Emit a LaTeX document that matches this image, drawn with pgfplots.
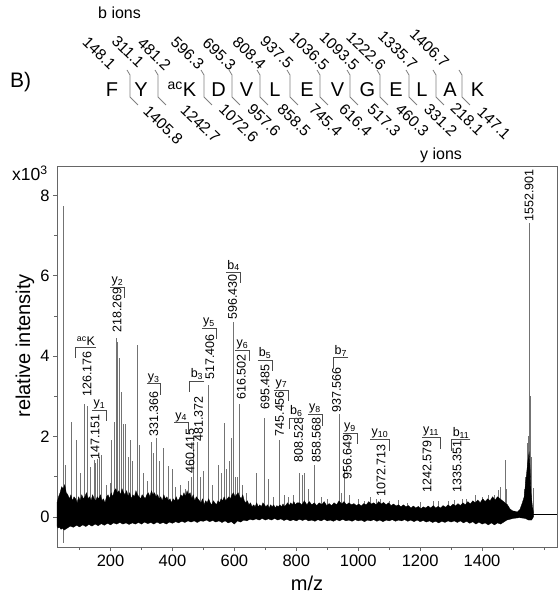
\documentclass[border=0pt]{standalone}
\usepackage{fontspec}
\setmainfont{Liberation Sans}
\usepackage{pgfplots}
\pgfplotsset{compat=1.18}
\tikzset{
  pk/.style={rotate=90, anchor=west, inner sep=0pt, font=\fontsize{12.5}{13}\selectfont},
  ion/.style={anchor=south, inner sep=1pt, font=\fontsize{12.5}{13}\selectfont},
  ionln/.style={black!70, line width=0.7pt},
  sep/.style={black!50, line width=0.8pt},
  hb/.style={rotate=-44, anchor=east, inner sep=0pt, font=\fontsize{15.5}{16}\selectfont},
  hy/.style={rotate=-44, anchor=west, inner sep=0pt, font=\fontsize{15.5}{16}\selectfont},
  aa/.style={anchor=base, inner sep=0pt, font=\fontsize{20}{22}\selectfont}
}
\newcommand\ionR[3]{\node[ion] (ionnode) at (axis cs:#1,#2) {#3};
  \draw[ionln] (ionnode.south west) -- (ionnode.south east) -- ++(0pt,-11pt);}
\newcommand\ionL[3]{\node[ion] (ionnode) at (axis cs:#1,#2) {#3};
  \draw[ionln] (ionnode.south east) -- (ionnode.south west) -- ++(0pt,-11pt);}
\begin{document}
\begin{tikzpicture}[x=1pt,y=1pt]
\useasboundingbox (0,0) rectangle (558,603);
\begin{axis}[at={(57pt,56pt)}, anchor=south west, width=500pt, height=381pt, scale only axis,
  xmin=27, xmax=1642, ymin=-0.75, ymax=8.73, clip=false,
  axis line style={black!60, line width=0.8pt},
  xtick={200,400,...,1400}, minor xtick={100,300,...,1500,1600},
  ytick={0,2,...,8}, minor ytick={1,3,5,7},
  tick align=outside, xtick pos=lower, ytick pos=left,
  major tick length=4pt, minor tick length=3pt,
  tick style={black!60, line width=0.6pt},
  ticklabel style={font=\fontsize{16.5}{18}\selectfont},
  /pgf/number format/assume math mode=true, /pgf/number format/1000 sep={},
  xlabel={m/z}, ylabel={relative intensity},
  label style={font=\fontsize{20}{22}\selectfont},
  xlabel style={at={(axis description cs:0.5,0)}, anchor=base, yshift=-43pt},
  ylabel style={at={(axis description cs:-0.064,0.528)}, anchor=center},
]
% peaks
\addplot[ycomb, black!55, line width=0.7pt, mark=none] coordinates {
(47,7.74)(47,-0.65)(55,1.3)(74,2.35)(90,1.9)(104,1.1)(114,2.8)(126.2,2.75)(135,1.25)
(147.2,1.42)(152,1.35)(158,1.45)(164,1.5)(171,1.55)(185,0.8)(198,0.85)(203,1.9)(211,2.35)
(218.3,4.45)(222.5,4.35)(229,3.95)(235,3.1)(240,2.3)(249,2.3)(257,1.5)(265,1.9)(270,1.4)
(287.5,4.28)(292,1.8)(305,1.1)(318,0.9)(331.4,1.87)(338,1.6)(349,1.95)(357,1.4)(370,1.72)
(387,1.27)(400,1.2)(410,0.75)(424,0.8)(440,0.7)(451,0.88)(460.4,1.0)(467,1.87)(481.4,1.87)
(490,1.0)(499,1.15)(517.4,3.28)(530,0.8)(547,1.3)(557,1.1)(566,2.33)(575,1.2)(584,1.4)
(590,1.95)(596.4,4.85)(602,1.0)(610,1.0)(616.5,2.8)(625,0.8)(640,0.6)(670,1.1)(695.5,2.45)
(710,0.95)(725,0.5)(745.5,1.92)(760,0.55)(775,0.5)(790,0.55)(808.5,1.09)(820,1.05)(826,1.1)
(840,0.7)(858.6,1.29)(880,0.5)(900,0.45)(937.6,2.55)(945,0.6)(956.6,1.2)(970,0.55)(1000,0.45)
(1020,0.4)(1038,0.5)(1060,0.45)(1072.7,0.45)(1100,0.4)(1130,0.42)(1160,0.35)(1200,0.38)
(1242.6,0.4)(1260,0.4)(1290,0.4)(1310,0.42)(1335.4,0.45)(1350,0.45)(1377,0.55)(1400,0.5)
(1420,0.55)(1440,0.55)(1452,0.67)(1460,0.75)(1474,1.42)(1480,0.7)(1535,0.7)(1540,1.0)
(1545,1.84)(1549,2.0)(1552.9,7.3)(1553.9,5.9)(1555,3.0)(1558,1.5)(1566,0.72)
};
% noise band
\addplot[fill=black, draw=black, line width=0.3pt, mark=none] coordinates {
(27,0.35)(32,0.5)(37,0.6)(42,0.75)(47,0.7)(52,0.8)(57,0.6)(62,0.55)(67,0.45)(72,0.55)(77,0.4)(82,0.5)(87,0.45)(92,0.35)(97,0.5)(102,0.4)(107,0.55)(112,0.45)(117,0.5)(122,0.6)(127,0.45)(132,0.5)(137,0.4)(142,0.55)(147,0.45)(152,0.4)(157,0.5)(162,0.45)(167,0.55)(172,0.4)(177,0.45)(182,0.35)(187,0.5)(192,0.55)(197,0.45)(202,0.6)(207,0.5)(212,0.65)(217,0.7)(222,0.6)(227,0.65)(232,0.55)(237,0.7)(242,0.6)(247,0.55)(252,0.65)(257,0.5)(262,0.6)(267,0.45)(272,0.55)(277,0.5)(282,0.65)(287,0.55)(292,0.5)(297,0.45)(302,0.55)(307,0.5)(312,0.45)(317,0.55)(322,0.6)(327,0.5)(332,0.65)(337,0.55)(342,0.6)(347,0.5)(352,0.55)(357,0.45)(362,0.5)(367,0.4)(372,0.55)(377,0.45)(382,0.5)(387,0.4)(392,0.45)(397,0.35)(402,0.45)(407,0.4)(412,0.5)(417,0.4)(422,0.45)(427,0.55)(432,0.5)(437,0.6)(442,0.5)(447,0.65)(452,0.55)(457,0.6)(462,0.45)(467,0.55)(472,0.4)(477,0.5)(482,0.45)(487,0.4)(492,0.35)(497,0.45)(502,0.3)(507,0.4)(512,0.35)(517,0.45)(522,0.35)(527,0.3)(532,0.4)(537,0.35)(542,0.3)(547,0.4)(552,0.35)(557,0.45)(562,0.4)(567,0.5)(572,0.4)(577,0.45)(582,0.5)(587,0.45)(592,0.55)(597,0.6)(602,0.5)(607,0.55)(612,0.6)(617,0.5)(622,0.45)(627,0.55)(632,0.4)(637,0.35)(642,0.4)(647,0.3)(652,0.35)(657,0.25)(662,0.3)(667,0.25)(672,0.35)(677,0.25)(682,0.3)(687,0.25)(692,0.35)(697,0.3)(702,0.25)(707,0.3)(712,0.22)(717,0.3)(722,0.25)(727,0.3)(732,0.22)(737,0.28)(742,0.25)(747,0.3)(752,0.25)(757,0.32)(762,0.25)(767,0.3)(772,0.35)(777,0.28)(782,0.35)(787,0.3)(792,0.38)(797,0.3)(802,0.35)
(810,0.35)(818,0.3)(826,0.4)(834,0.3)(842,0.38)(850,0.3)(858,0.35)(866,0.28)(874,0.35)(882,0.3)(890,0.38)(898,0.28)(906,0.33)(914,0.28)(922,0.35)(930,0.3)(938,0.4)(946,0.32)(954,0.38)(962,0.3)(970,0.35)(978,0.3)(986,0.33)(994,0.28)(1002,0.32)(1010,0.27)(1018,0.33)(1026,0.3)(1034,0.38)(1042,0.32)(1050,0.35)(1058,0.3)(1066,0.38)(1074,0.32)(1082,0.36)(1090,0.3)(1098,0.35)(1106,0.28)(1114,0.32)(1122,0.27)(1130,0.3)(1138,0.25)(1146,0.3)(1154,0.25)(1162,0.28)(1170,0.22)(1178,0.27)(1186,0.22)(1194,0.26)(1202,0.2)(1210,0.25)(1218,0.22)(1226,0.27)(1234,0.22)(1242,0.28)(1250,0.22)(1258,0.26)(1266,0.22)(1274,0.28)(1282,0.24)(1290,0.3)(1298,0.25)(1306,0.32)(1314,0.27)(1322,0.33)(1330,0.28)(1338,0.35)(1346,0.3)(1354,0.38)(1362,0.32)(1370,0.4)(1378,0.35)(1386,0.42)(1394,0.35)(1402,0.45)(1410,0.38)(1418,0.45)(1426,0.4)(1434,0.5)(1442,0.42)(1450,0.5)(1458,0.45)(1466,0.4)(1474,0.35)(1482,0.3)(1490,0.2)(1498,0.15)(1506,0.14)(1514,0.12)(1522,0.18)(1530,0.35)(1536,0.5)(1540,0.8)(1544,1.1)(1548,1.4)(1552,1.6)(1555,1.2)(1558,0.6)(1562,0.3)(1566,0.1)
(1566,0.0)(1560,-0.08)(1550,-0.08)(1540,-0.04)(1530,-0.03)(1520,-0.02)(1510,-0.03)(1500,-0.04)(1490,-0.06)(1480,-0.08)(1470,-0.13)(1460,-0.18)(1450,-0.15)(1440,-0.2)(1430,-0.15)(1420,-0.2)(1410,-0.15)(1400,-0.18)(1390,-0.13)(1380,-0.18)(1370,-0.12)(1360,-0.16)(1350,-0.11)(1340,-0.15)(1330,-0.1)(1320,-0.14)(1310,-0.1)(1300,-0.13)(1290,-0.1)(1280,-0.14)(1270,-0.11)(1260,-0.15)(1250,-0.11)(1240,-0.14)(1230,-0.1)(1220,-0.13)(1210,-0.09)(1200,-0.12)(1190,-0.08)(1180,-0.12)(1170,-0.08)(1160,-0.11)(1150,-0.07)(1140,-0.1)(1130,-0.08)(1120,-0.11)(1110,-0.07)(1100,-0.1)(1090,-0.08)(1080,-0.12)(1070,-0.08)(1060,-0.11)(1050,-0.07)(1040,-0.1)(1030,-0.08)(1020,-0.12)(1010,-0.08)(1000,-0.1)(990,-0.07)(980,-0.11)(970,-0.08)(960,-0.1)(950,-0.06)(940,-0.1)(930,-0.07)(920,-0.11)(910,-0.08)(900,-0.1)(890,-0.06)(880,-0.1)(870,-0.07)(860,-0.11)(850,-0.08)(840,-0.1)(830,-0.06)(820,-0.09)(810,-0.06)(800,-0.1)(790,-0.07)(780,-0.1)(770,-0.06)(760,-0.09)(750,-0.05)(740,-0.08)(730,-0.04)(720,-0.08)(710,-0.05)(700,-0.08)(690,-0.04)(680,-0.08)(670,-0.05)(660,-0.08)(650,-0.06)(640,-0.1)(630,-0.08)(620,-0.13)(610,-0.1)(600,-0.18)(590,-0.12)(580,-0.15)(570,-0.1)(560,-0.14)(550,-0.1)(540,-0.13)(530,-0.09)(520,-0.12)(510,-0.08)(500,-0.11)(490,-0.1)(480,-0.14)(470,-0.1)(460,-0.13)(450,-0.1)(440,-0.14)(430,-0.11)(420,-0.15)(410,-0.12)(400,-0.16)(390,-0.13)(380,-0.18)(370,-0.14)(360,-0.17)(350,-0.13)(340,-0.18)(330,-0.14)(320,-0.17)(310,-0.13)(300,-0.18)(290,-0.14)(280,-0.18)(270,-0.15)(260,-0.19)(250,-0.15)(240,-0.18)(230,-0.14)(220,-0.18)(210,-0.15)(200,-0.2)(190,-0.16)(180,-0.21)(170,-0.17)(160,-0.22)(150,-0.18)(140,-0.23)(130,-0.19)(120,-0.24)(110,-0.2)(100,-0.25)(90,-0.21)(80,-0.26)(70,-0.23)(60,-0.28)(50,-0.33)(45,-0.28)(40,-0.31)(35,-0.26)(30,-0.28)(27,-0.23)
};
\addplot[black, line width=0.9pt, mark=none] coordinates {(1562,0.05)(1642,0.05)};
% peak labels
\node[pk] at (axis cs:124,2.99) {126.176};
\node[pk] at (axis cs:150,1.42) {147.151};
\node[pk] at (axis cs:221,4.58) {218.269};
\node[pk] at (axis cs:340,1.99) {331.366};
\node[pk] at (axis cs:457,1.07) {460.415};
\node[pk] at (axis cs:484,1.87) {481.372};
\node[pk] at (axis cs:521,3.41) {517.406};
\node[pk] at (axis cs:594,4.9) {596.430};
\node[pk] at (axis cs:622,2.91) {616.502};
\node[pk] at (axis cs:699,2.66) {695.485};
\node[pk] at (axis cs:746,2.0) {745.456};
\node[pk] at (axis cs:807,1.34) {808.528};
\node[pk] at (axis cs:865,1.34) {858.568};
\node[pk] at (axis cs:930,2.59) {937.566};
\node[pk] at (axis cs:965,0.92) {956.649};
\node[pk] at (axis cs:1074,0.5) {1072.713};
\node[pk] at (axis cs:1222,0.6) {1242.579};
\node[pk] at (axis cs:1319,0.6) {1335.351};
\node[pk] at (axis cs:1552,7.34) {1552.901};
% ion names
\ionL{120.5}{4.23}{\textsuperscript{ac}K}
\ionR{164}{2.66}{y\textsubscript{1}}
\ionR{222}{5.72}{y\textsubscript{2}}
\ionR{339}{3.31}{y\textsubscript{3}}
\ionR{428}{2.34}{y\textsubscript{4}}
\ionL{479}{3.38}{b\textsubscript{3}}
\ionR{518}{4.7}{y\textsubscript{5}}
\ionR{597}{6.09}{b\textsubscript{4}}
\ionR{626}{4.15}{y\textsubscript{6}}
\ionR{699}{3.9}{b\textsubscript{5}}
\ionR{752}{3.16}{y\textsubscript{7}}
\ionL{800}{2.46}{b\textsubscript{6}}
\ionR{860}{2.54}{y\textsubscript{8}}
\ionL{944}{3.96}{b\textsubscript{7}}
\ionR{973}{2.09}{y\textsubscript{9}}
\ionR{1070}{1.92}{y\textsubscript{10}}
\ionR{1235}{1.97}{y\textsubscript{11}}
\ionL{1332}{1.92}{b\textsubscript{11}}
\end{axis}
% header, in pixel coordinates measured from the top
\begin{scope}[shift={(0,603)}, y=-1pt]
\node[anchor=base west, inner sep=0pt, font=\fontsize{17.5}{18}\selectfont] at (12,180.5) {x10\textsuperscript{3}};
\node[anchor=base west, inner sep=0pt, font=\fontsize{21}{22}\selectfont] at (10,87.5) {B)};
\node[anchor=base west, inner sep=0pt, font=\fontsize{16}{17}\selectfont] at (98,18.5) {b ions};
\node[anchor=base west, inner sep=0pt, font=\fontsize{16}{17}\selectfont] at (420,159.5) {y ions};
\foreach \xx/\ll in {112/F,141/Y,218.5/D,246.5/V,275/L,307/E,337.5/V,367.5/G,396/E,422/L,450/A,477.5/K}
  \node[aa] at (\xx,96.7) {\ll};
\node[aa] at (182,96.7) {\textsuperscript{ac}K};
\foreach \sx in {130,158,204,232,260,290,320,350,380,409,436,462}
  \draw[sep] (\sx-3,70) -- (\sx,75) -- (\sx,97) -- (\sx+8,105);
\foreach \xx/\yy/\tt in {113.4/66.3/148.1,141.7/64.6/311.1,168.4/68/481.2,201.7/66.3/596.3,233.4/68/695.3,263.4/66.3/808.4,291/66/937.5,326.7/68/1036.5,356.7/68/1093.5,383.4/68/1222.6,415/66.3/1335.7,446.7/64.6/1406.7}
  \node[hb] at (\xx,\yy) {\tt};
\foreach \xx/\yy/\tt in {146/109/1405.8,183.3/107/1242.7,221.6/107/1072.6,250/107/957.6,280/107/858.5,311.6/107/745.4,341.6/107/616.4,370/107/517.3,398.3/107/460.3,426.6/107/331.2,453.3/105.4/218.1,480/110/147.1}
  \node[hy] at (\xx,\yy) {\tt};
\end{scope}
\end{tikzpicture}
\end{document}
